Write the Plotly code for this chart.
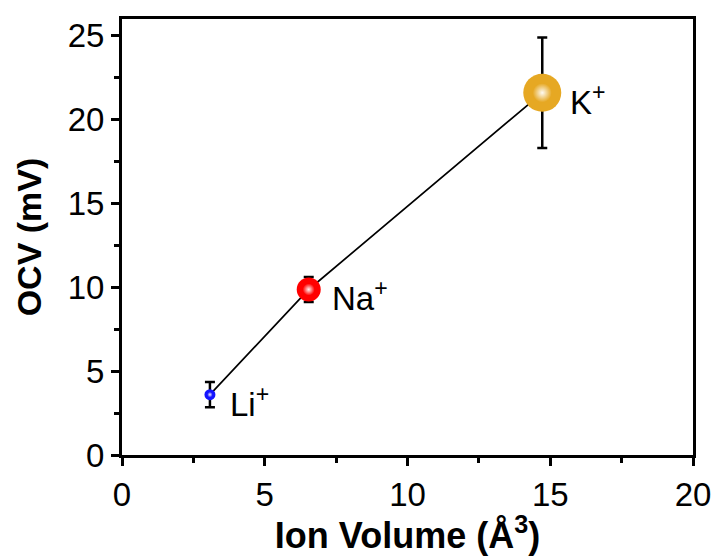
import plotly.graph_objects as go

ions = ["Li", "Na", "K"]
ion_volume = [3.08, 6.54, 14.72]
ocv = [3.6, 9.87, 21.6]
ocv_err = [0.75, 0.75, 3.3]
colors = ["#1414ff", "#ff0000", "#e6a823"]
sizes = [11, 24, 38]
labels = ["Li<sup>+</sup>", "Na<sup>+</sup>", "K<sup>+</sup>"]

FONT = "Arial"

fig = go.Figure()
# connecting line
fig.add_trace(go.Scatter(x=ion_volume, y=ocv, mode="lines",
                         line=dict(color="black", width=1.7), showlegend=False,
                         hoverinfo="skip"))
# error bars
fig.add_trace(go.Scatter(x=ion_volume, y=ocv, mode="markers",
                         marker=dict(size=0.1, color="rgba(0,0,0,0)"),
                         error_y=dict(type="data", array=ocv_err, color="black",
                                      thickness=2.5, width=5),
                         showlegend=False, hoverinfo="skip"))
# spheres
fig.add_trace(go.Scatter(x=ion_volume, y=ocv, mode="markers",
                         marker=dict(size=sizes, color=colors, opacity=1,
                                     line=dict(width=0)),
                         opacity=1, showlegend=False))
# soft highlight: white at the centre (gradient colour) fading to transparent at the edge
fig.add_trace(go.Scatter(x=ion_volume, y=ocv, mode="markers",
                         marker=dict(size=[s * 0.5 for s in sizes],
                                     color="rgba(255,255,255,0)",
                                     opacity=1,
                                     gradient=dict(type="radial",
                                                   color="rgba(255,255,255,0.95)"),
                                     line=dict(width=0)),
                         opacity=1, showlegend=False, hoverinfo="skip"))

xshifts = [18, 21, 26]
for xv, yv, lab, xs in zip(ion_volume, ocv, labels, xshifts):
    fig.add_annotation(x=xv, y=yv, text=lab, showarrow=False, xanchor="left",
                       yanchor="middle", xshift=xs, yshift=-7,
                       font=dict(family=FONT, size=33, color="black"))

axis_common = dict(showline=True, linewidth=3, linecolor="black", mirror=True,
                   ticks="outside", ticklen=8, tickwidth=3, tickcolor="black",
                   showgrid=False, zeroline=False,
                   tickfont=dict(family=FONT, size=33, color="black"))

fig.update_xaxes(range=[0, 20], dtick=5, tick0=0,
                 minor=dict(ticks="outside", dtick=2.5, ticklen=5, tickwidth=3,
                            tickcolor="black", showgrid=False),
                 title=dict(text="<b>Ion Volume (Å<sup>3</sup>)</b>",
                            font=dict(family=FONT, size=36, color="black"), standoff=5),
                 **axis_common)
fig.update_yaxes(range=[0, 26], dtick=5, tick0=0,
                 minor=dict(ticks="outside", dtick=2.5, ticklen=5, tickwidth=3,
                            tickcolor="black", showgrid=False),
                 title=dict(text="<b>OCV (mV)</b>",
                            font=dict(family=FONT, size=34, color="black"), standoff=16),
                 **axis_common)

# page body has an 8px default margin; compensate so the plot lands where the reference has it
fig.update_layout(width=711, height=548, plot_bgcolor="white", paper_bgcolor="white",
                  margin=dict(l=114, r=24, t=8, b=101), showlegend=False)

fig.write_html("out.html")
